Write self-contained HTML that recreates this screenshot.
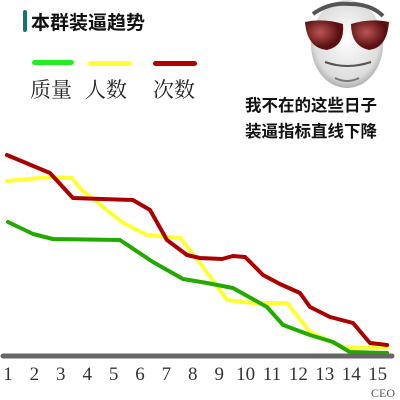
<!DOCTYPE html>
<html><head><meta charset="utf-8"><style>
body{margin:0;width:400px;height:400px;background:#fff;overflow:hidden;position:relative;font-family:"Liberation Sans","Noto Sans CJK SC",sans-serif}
.t{position:absolute;white-space:nowrap}
</style></head><body>
<div style="position:absolute;left:23px;top:10px;width:4px;height:22px;background:#17756b;border-radius:2px"></div>
<div class="t" style="left:31px;top:8px;font-size:19px;font-weight:bold;color:#111">本群装逼趋势</div>
<div style="position:absolute;left:32px;top:60px;width:42px;height:5px;border-radius:3px;background:#22ee22"></div>
<div style="position:absolute;left:88px;top:61px;width:44px;height:5px;border-radius:3px;background:#ffff33"></div>
<div style="position:absolute;left:153px;top:61px;width:44px;height:5px;border-radius:3px;background:#b00000"></div>
<div class="t" style="left:30px;top:74px;font-size:21px;font-family:'Noto Serif CJK SC',serif;color:#222">质量</div>
<div class="t" style="left:85px;top:74px;font-size:21px;font-family:'Noto Serif CJK SC',serif;color:#222">人数</div>
<div class="t" style="left:153px;top:74px;font-size:21px;font-family:'Noto Serif CJK SC',serif;color:#222">次数</div>
<svg style="position:absolute;left:295px;top:0" width="100" height="92">
<defs><radialGradient id="f" cx="50%" cy="45%" r="60%"><stop offset="0" stop-color="#fff"/><stop offset="0.75" stop-color="#ddd"/><stop offset="1" stop-color="#999"/></radialGradient>
<radialGradient id="g" cx="40%" cy="40%"><stop offset="0" stop-color="#b55"/><stop offset="1" stop-color="#5a1010"/></radialGradient></defs>
<ellipse cx="52" cy="44" rx="36" ry="44" fill="url(#f)"/>
<path d="M18 14 Q34 2 55 4 Q76 4 88 16" stroke="#555" stroke-width="4" fill="none"/>
<path d="M10 22 Q28 18 48 24 Q50 46 32 50 Q12 48 10 22Z" fill="url(#g)"/>
<path d="M56 24 Q76 18 94 22 Q92 48 74 50 Q56 46 56 24Z" fill="url(#g)"/>
<path d="M30 62 Q52 70 76 62" stroke="#555" stroke-width="2" fill="none"/>
<path d="M40 78 Q52 84 64 78" stroke="#777" stroke-width="2" fill="none"/>
</svg>
<div class="t" style="left:245px;top:92px;font-size:16.5px;font-weight:bold;color:#111">我不在的这些日子</div>
<div class="t" style="left:245px;top:118px;font-size:16.5px;font-weight:bold;color:#111">装逼指标直线下降</div>
<svg id="chart" style="position:absolute;left:0;top:0" width="400" height="400"></svg>
<script>
const ticks=["1","2","3","4","5","6","7","8","9","10","11","12","13","14","15"];
const redX=[0.96,2.59,3.46,5.73,6.38,7.02,7.78,8.27,9.11,9.52,9.98,10.66,11.3,12.06,12.44,13.2,14.07,14.71,15.36];
const redY=[100,91,78.5,77.5,72.5,57.5,50,48.5,48,49.5,49,40,35.5,31,24,19,16,6,5];
const yelX=[0.96,2.59,3.42,3.8,5.36,6.27,7.52,8.27,9.3,10.28,11.57,12.44,13.69,15.36];
const yelY=[87,89,88.5,82.5,66,60,58.5,46,27.5,26,26,11.5,4,3.5];
const grnX=[1,1.95,2.7,5.24,6.49,7.63,8.54,9.52,10.81,11.42,12.44,13.31,13.95,15.36];
const grnY=[66.5,60.5,58,57.5,46.5,38,36,33.5,24,15,10,6.5,1.5,1];
const sx=u=>8+(u-1)*26.4, sy=v=>355-v*2;
const svg=document.getElementById('chart'),NS='http://www.w3.org/2000/svg';
function line(xs,ys,c,name){const p=document.createElementNS(NS,'polyline');
p.setAttribute('points',xs.map((x,i)=>sx(x)+','+sy(ys[i])).join(' '));
p.setAttribute('fill','none');p.setAttribute('stroke',c);p.setAttribute('stroke-width','4');p.setAttribute('stroke-linejoin','round');p.setAttribute('stroke-linecap','round');


svg.appendChild(p);}
line(yelX,yelY,'#ffff33','series-people');
line(grnX,grnY,'#22aa00','series-quality');
line(redX,redY,'#aa0000','series-count');
const ax=document.createElementNS(NS,'line');
ax.setAttribute('x1',3);ax.setAttribute('x2',392);ax.setAttribute('y1',356);ax.setAttribute('y2',356);ax.setAttribute('stroke','#666');ax.setAttribute('stroke-width','5');ax.setAttribute('stroke-linecap','round');


svg.appendChild(ax);
ticks.forEach((t,i)=>{const e=document.createElementNS(NS,'text');
e.setAttribute('x',sx(i+1));e.setAttribute('y',380);e.setAttribute('text-anchor','middle');e.setAttribute('font-size','19');e.setAttribute('font-family','Liberation Serif,serif');e.setAttribute('fill','#333');
e.textContent=t;


svg.appendChild(e);});
const c=document.createElementNS(NS,'text');
c.setAttribute('x',383);c.setAttribute('y',397);c.setAttribute('text-anchor','middle');c.setAttribute('font-size','12');c.setAttribute('font-family','Liberation Serif,serif');c.setAttribute('fill','#555');c.textContent='CEO';


svg.appendChild(c);
</script>
</body></html>
